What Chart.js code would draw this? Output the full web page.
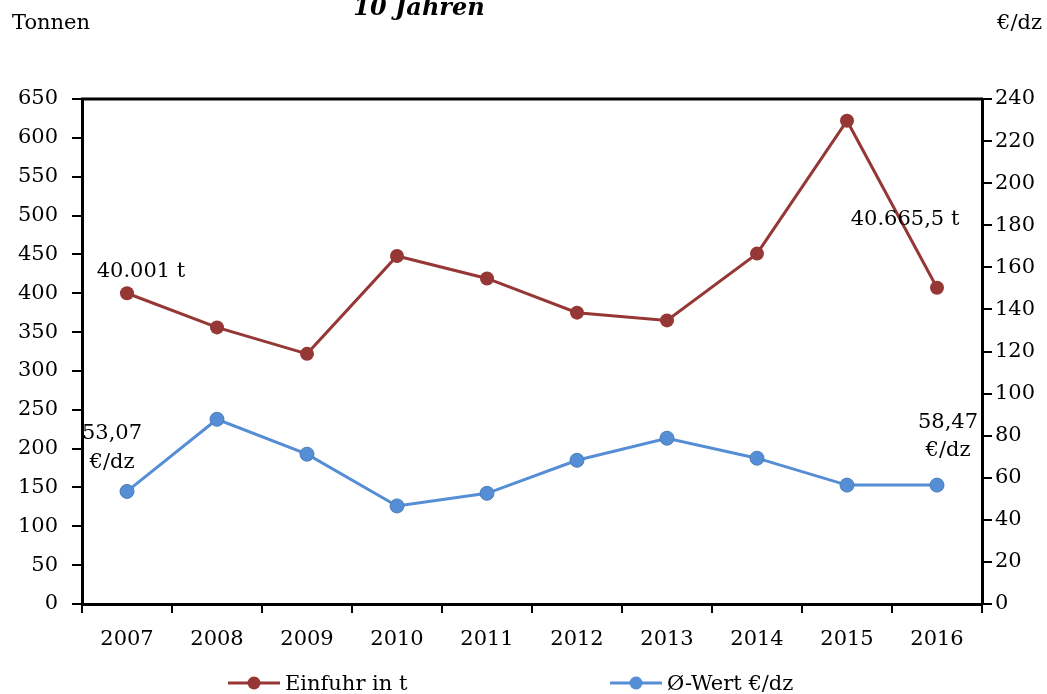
<!DOCTYPE html>
<html>
<head>
<meta charset="utf-8">
<script src="https://cdn.jsdelivr.net/npm/chart.js@4"></script>
<style>
  html, body { margin: 0; padding: 0; background: #fff; }
  #wrap { position: relative; width: 1047px; height: 694px; }
  #legend { position: absolute; left: 0; top: 671px; width: 1047px; height: 24px;
            font: 21px "DejaVu Serif", serif; color: #000; }
  .item { position: absolute; top: 0; display: flex; align-items: center; height: 24px; }
  .item svg { margin-right: 5px; }
</style>
</head>
<body>
<div id="wrap">
  <canvas id="chart" width="1047" height="694"></canvas>
  <div id="legend"></div>
</div>
<script>
// ================= DATA =================
const years = ["2007", "2008", "2009", "2010", "2011", "2012", "2013", "2014", "2015", "2016"];
const einfuhr = [400, 356, 322, 448, 419, 375, 365, 451, 622, 407];   // left axis, Tonnen
const wert = [53.5, 87.8, 71.2, 46.6, 52.6, 68.3, 78.8, 69.3, 56.5, 56.5]; // right axis, €/dz
const seriesNames = ["Einfuhr in t", "Ø-Wert €/dz"];
const red = "#953735";
const blue = "#558ED5";
const FONT = "DejaVu Serif";

// ================= HELPERS =================
const frame = {
  id: "frame",
  afterDraw(chart) {
    const { ctx, chartArea } = chart;
    ctx.save();
    // top border line
    ctx.strokeStyle = "#000";
    ctx.lineWidth = 3;
    ctx.beginPath();
    ctx.moveTo(chartArea.left - 1, chartArea.top);
    ctx.lineTo(chartArea.right + 1, chartArea.top);
    ctx.stroke();

    ctx.fillStyle = "#000";
    // clipped title
    ctx.font = "bold italic 24px " + FONT;
    ctx.textAlign = "center";
    ctx.textBaseline = "alphabetic";
    ctx.fillText("10 Jahren", 419, 15);
    // axis units
    ctx.font = "21px " + FONT;
    ctx.textAlign = "left";
    ctx.fillText("Tonnen", 12, 29);
    ctx.textAlign = "right";
    ctx.fillText("€/dz", 1042, 29);

    // value annotations next to first and last points
    const r = chart.getDatasetMeta(0).data;
    const b = chart.getDatasetMeta(1).data;
    const last = years.length - 1;
    ctx.font = "21px " + FONT;
    ctx.textAlign = "center";
    ctx.textBaseline = "middle";
    ctx.fillText("40.001 t", r[0].x + 14, r[0].y - 22);
    ctx.fillText("53,07", b[0].x - 15, b[0].y - 58);
    ctx.fillText("€/dz", b[0].x - 15, b[0].y - 29);
    ctx.fillText("40.665,5 t", r[last].x - 32, r[last].y - 68);
    ctx.fillText("58,47", b[last].x + 11, b[last].y - 63);
    ctx.fillText("€/dz", b[last].x + 11, b[last].y - 35);
    ctx.restore();
  }
};

function buildLegend() {
  const legend = document.getElementById("legend");
  const colors = [red, blue];
  const lefts = [228, 610];
  seriesNames.forEach((name, i) => {
    const c = colors[i];
    const div = document.createElement("div");
    div.className = "item";
    div.style.left = lefts[i] + "px";
    div.innerHTML =
      `<svg width="52" height="16"><line x1="0" y1="8" x2="52" y2="8" stroke="${c}" stroke-width="3"/>` +
      `<circle cx="26" cy="8" r="6.5" fill="${c}"/></svg><span>${name}</span>`;
    legend.appendChild(div);
  });
}

// ================= CHART =================
const ctx = document.getElementById("chart").getContext("2d");
new Chart(ctx, {
  type: "line",
  data: {
    labels: years,
    datasets: [
      {
        label: seriesNames[0],
        data: einfuhr,
        yAxisID: "y",
        borderColor: red,
        backgroundColor: red,
        borderWidth: 3,
        pointRadius: 7,
        pointBorderWidth: 0,
        pointBackgroundColor: red,
        tension: 0
      },
      {
        label: seriesNames[1],
        data: wert,
        yAxisID: "y1",
        borderColor: blue,
        backgroundColor: blue,
        borderWidth: 3,
        pointRadius: 7,
        pointBorderWidth: 1,
        pointBorderColor: "#4A7EBB",
        pointBackgroundColor: blue,
        tension: 0
      }
    ]
  },
  options: {
    responsive: false,
    animation: false,
    layout: { padding: { top: 99, left: 0, right: 0, bottom: 0 } },
    plugins: { legend: { display: false }, tooltip: { enabled: false } },
    scales: {
      x: {
        offset: true,
        grid: { offset: true, drawOnChartArea: false, color: "#000", lineWidth: 2, tickLength: 9 },
        border: { color: "#000", width: 3 },
        ticks: { color: "#000", font: { family: FONT, size: 21 }, padding: 14, maxRotation: 0 },
        afterFit(scale) { scale.height = 90; }
      },
      y: {
        position: "left",
        min: 0, max: 650,
        ticks: { stepSize: 50, color: "#000", font: { family: FONT, size: 21 }, padding: 14 },
        grid: { drawOnChartArea: false, color: "#000", lineWidth: 2, tickLength: 10 },
        border: { color: "#000", width: 3 },
        afterFit(scale) { scale.width = 82; }
      },
      y1: {
        position: "right",
        min: 0, max: 240,
        ticks: { stepSize: 20, color: "#000", font: { family: FONT, size: 21 }, padding: 3 },
        grid: { drawOnChartArea: false, color: "#000", lineWidth: 2, tickLength: 10 },
        border: { color: "#000", width: 3 },
        afterFit(scale) { scale.width = 65; }
      }
    }
  },
  plugins: [frame]
});
buildLegend();
</script>
</body>
</html>
